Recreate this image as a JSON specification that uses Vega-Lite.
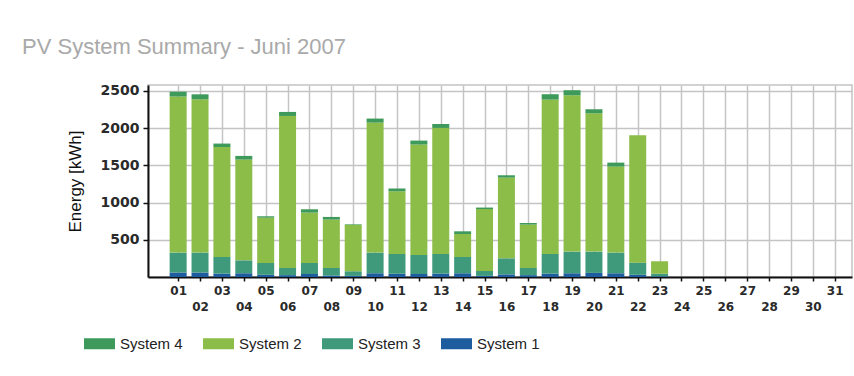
{
  "$schema": "https://vega.github.io/schema/vega-lite/v6.json",
  "width": 704,
  "height": 192,
  "autosize": {"type": "none"},
  "padding": {"left": 148, "top": 85, "right": 2, "bottom": 99},
  "background": "white",
  "title": {
    "text": "PV System Summary - Juni 2007",
    "anchor": "start",
    "frame": "group",
    "dx": -126,
    "offset": 8,
    "baseline": "alphabetic",
    "font": "Liberation Sans",
    "fontSize": 22,
    "fontWeight": "normal",
    "color": "#a9a9a9"
  },
  "datasets": {
    "systems": [
      {"system": "System 1", "stackRank": 1},
      {"system": "System 3", "stackRank": 2},
      {"system": "System 2", "stackRank": 3},
      {"system": "System 4", "stackRank": 4}
    ]
  },
  "data": {
    "values": [
      {"day": 1, "system": "System 1", "energy": 60},
      {"day": 1, "system": "System 3", "energy": 268},
      {"day": 1, "system": "System 2", "energy": 2097},
      {"day": 1, "system": "System 4", "energy": 65},
      {"day": 2, "system": "System 1", "energy": 60},
      {"day": 2, "system": "System 3", "energy": 268},
      {"day": 2, "system": "System 2", "energy": 2060},
      {"day": 2, "system": "System 4", "energy": 67},
      {"day": 3, "system": "System 1", "energy": 45},
      {"day": 3, "system": "System 3", "energy": 224},
      {"day": 3, "system": "System 2", "energy": 1478},
      {"day": 3, "system": "System 4", "energy": 46},
      {"day": 4, "system": "System 1", "energy": 50},
      {"day": 4, "system": "System 3", "energy": 174},
      {"day": 4, "system": "System 2", "energy": 1354},
      {"day": 4, "system": "System 4", "energy": 49},
      {"day": 5, "system": "System 1", "energy": 30},
      {"day": 5, "system": "System 3", "energy": 158},
      {"day": 5, "system": "System 2", "energy": 609},
      {"day": 5, "system": "System 4", "energy": 19},
      {"day": 6, "system": "System 1", "energy": 25},
      {"day": 6, "system": "System 3", "energy": 96},
      {"day": 6, "system": "System 2", "energy": 2043},
      {"day": 6, "system": "System 4", "energy": 54},
      {"day": 7, "system": "System 1", "energy": 40},
      {"day": 7, "system": "System 3", "energy": 148},
      {"day": 7, "system": "System 2", "energy": 677},
      {"day": 7, "system": "System 4", "energy": 45},
      {"day": 8, "system": "System 1", "energy": 20},
      {"day": 8, "system": "System 3", "energy": 101},
      {"day": 8, "system": "System 2", "energy": 650},
      {"day": 8, "system": "System 4", "energy": 36},
      {"day": 9, "system": "System 1", "energy": 15},
      {"day": 9, "system": "System 3", "energy": 62},
      {"day": 9, "system": "System 2", "energy": 623},
      {"day": 9, "system": "System 4", "energy": 8},
      {"day": 10, "system": "System 1", "energy": 50},
      {"day": 10, "system": "System 3", "energy": 278},
      {"day": 10, "system": "System 2", "energy": 1747},
      {"day": 10, "system": "System 4", "energy": 54},
      {"day": 11, "system": "System 1", "energy": 45},
      {"day": 11, "system": "System 3", "energy": 264},
      {"day": 11, "system": "System 2", "energy": 843},
      {"day": 11, "system": "System 4", "energy": 36},
      {"day": 12, "system": "System 1", "energy": 40},
      {"day": 12, "system": "System 3", "energy": 256},
      {"day": 12, "system": "System 2", "energy": 1484},
      {"day": 12, "system": "System 4", "energy": 53},
      {"day": 13, "system": "System 1", "energy": 45},
      {"day": 13, "system": "System 3", "energy": 264},
      {"day": 13, "system": "System 2", "energy": 1694},
      {"day": 13, "system": "System 4", "energy": 53},
      {"day": 14, "system": "System 1", "energy": 50},
      {"day": 14, "system": "System 3", "energy": 219},
      {"day": 14, "system": "System 2", "energy": 309},
      {"day": 14, "system": "System 4", "energy": 36},
      {"day": 15, "system": "System 1", "energy": 15},
      {"day": 15, "system": "System 3", "energy": 66},
      {"day": 15, "system": "System 2", "energy": 832},
      {"day": 15, "system": "System 4", "energy": 20},
      {"day": 16, "system": "System 1", "energy": 35},
      {"day": 16, "system": "System 3", "energy": 216},
      {"day": 16, "system": "System 2", "energy": 1085},
      {"day": 16, "system": "System 4", "energy": 31},
      {"day": 17, "system": "System 1", "energy": 25},
      {"day": 17, "system": "System 3", "energy": 96},
      {"day": 17, "system": "System 2", "energy": 583},
      {"day": 17, "system": "System 4", "energy": 22},
      {"day": 18, "system": "System 1", "energy": 45},
      {"day": 18, "system": "System 3", "energy": 264},
      {"day": 18, "system": "System 2", "energy": 2075},
      {"day": 18, "system": "System 4", "energy": 72},
      {"day": 19, "system": "System 1", "energy": 50},
      {"day": 19, "system": "System 3", "energy": 291},
      {"day": 19, "system": "System 2", "energy": 2101},
      {"day": 19, "system": "System 4", "energy": 68},
      {"day": 20, "system": "System 1", "energy": 55},
      {"day": 20, "system": "System 3", "energy": 286},
      {"day": 20, "system": "System 2", "energy": 1859},
      {"day": 20, "system": "System 4", "energy": 54},
      {"day": 21, "system": "System 1", "energy": 50},
      {"day": 21, "system": "System 3", "energy": 278},
      {"day": 21, "system": "System 2", "energy": 1156},
      {"day": 21, "system": "System 4", "energy": 53},
      {"day": 22, "system": "System 1", "energy": 30},
      {"day": 22, "system": "System 3", "energy": 163},
      {"day": 22, "system": "System 2", "energy": 1712},
      {"day": 22, "system": "System 4", "energy": 0},
      {"day": 23, "system": "System 1", "energy": 10},
      {"day": 23, "system": "System 3", "energy": 35},
      {"day": 23, "system": "System 2", "energy": 166},
      {"day": 23, "system": "System 4", "energy": 0}
    ]
  },
  "transform": [
    {
      "lookup": "system",
      "from": {"data": {"name": "systems"}, "key": "system", "fields": ["stackRank"]}
    }
  ],
  "mark": {"type": "bar", "width": 17},
  "encoding": {
    "x": {
      "field": "day",
      "type": "quantitative",
      "scale": {"domain": [-0.149, 31.563], "nice": false, "zero": false},
      "axis": {
        "title": null,
        "values": [1, 2, 3, 4, 5, 6, 7, 8, 9, 10, 11, 12, 13, 14, 15, 16, 17, 18, 19, 20, 21, 22, 23, 24, 25, 26, 27, 28, 29, 30, 31],
        "format": "02d",
        "labelOverlap": false,
        "labelFlush": false,
        "labelFont": "DejaVu Sans",
        "labelFontWeight": "bold",
        "labelFontSize": 12,
        "labelColor": "#2a2a2a",
        "labelPadding": {"condition": {"test": "datum.value % 2 === 0", "value": 20}, "value": 4},
        "tickSize": 4,
        "tickColor": "#111111",
        "tickWidth": 1.5,
        "domainColor": "#111111",
        "domainWidth": 2,
        "grid": true,
        "gridColor": "#c4c4c4",
        "gridWidth": 1.5
      }
    },
    "y": {
      "field": "energy",
      "type": "quantitative",
      "stack": "zero",
      "scale": {"domain": [0, 2580], "nice": false},
      "axis": {
        "title": "Energy [kWh]",
        "titleFont": "Liberation Sans",
        "titleFontSize": 17,
        "titleFontWeight": "normal",
        "titleColor": "#111111",
        "titlePadding": 16,
        "values": [500, 1000, 1500, 2000, 2500],
        "format": "d",
        "labelFont": "DejaVu Sans",
        "labelFontWeight": "bold",
        "labelFontSize": 14,
        "labelColor": "#2a2a2a",
        "labelPadding": 4,
        "tickSize": 5,
        "tickColor": "#111111",
        "tickWidth": 1.5,
        "domainColor": "#111111",
        "domainWidth": 2,
        "grid": true,
        "gridColor": "#c4c4c4",
        "gridWidth": 1.5
      }
    },
    "color": {
      "field": "system",
      "type": "nominal",
      "scale": {
        "domain": ["System 4", "System 2", "System 3", "System 1"],
        "range": ["#3e9a5a", "#8cbd48", "#3f9a7c", "#1d5d9f"]
      },
      "legend": {
        "title": null,
        "orient": "none",
        "legendX": -64,
        "legendY": 243,
        "direction": "horizontal",
        "columns": 4,
        "gridAlign": "all",
        "columnPadding": 20,
        "padding": 0,
        "symbolType": "M-1,-0.355H1V0.355H-1Z",
        "symbolSize": 961,
        "symbolStrokeWidth": 0,
        "labelFont": "Liberation Sans",
        "labelFontSize": 15,
        "labelColor": "#222222",
        "labelOffset": 5
      }
    },
    "order": {"field": "stackRank", "type": "quantitative", "sort": "ascending"}
  },
  "config": {
    "view": {"stroke": "#c4c4c4", "strokeWidth": 1.5}
  }
}
